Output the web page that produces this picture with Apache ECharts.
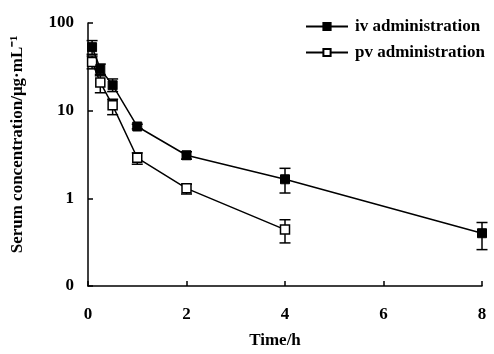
<!DOCTYPE html>
<html><head><meta charset="utf-8">
<script src="https://cdn.jsdelivr.net/npm/echarts@6/dist/echarts.min.js"></script>
<style>html,body{margin:0;padding:0;background:#fff}#c{width:494px;height:354px}</style>
</head><body><div id="c"></div>
<script>
var timesIv = [0.083, 0.25, 0.5, 1, 2, 4, 8];
var ivMean = [53, 30, 19.5, 6.6, 3.1, 1.65, 0.40];
var ivHigh = [63, 34, 23, 7.0, 3.4, 2.2, 0.53];
var ivLow = [44, 26, 16.5, 6.2, 2.8, 1.15, 0.26];
var timesPv = [0.083, 0.25, 0.5, 1, 2, 4];
var pvMean = [36, 21, 11.5, 2.9, 1.3, 0.44];
var pvHigh = [42, 25, 13.5, 3.3, 1.45, 0.57];
var pvLow = [30, 16, 9, 2.45, 1.12, 0.31];
var xTicks = [0, 2, 4, 6, 8];
var yTicks = [0.1, 1, 10, 100];
var yTickLabels = ['0', '1', '10', '100'];

var font = 'Liberation Serif';
function pairs(t, v) { return t.map(function (x, i) { return [x, v[i]]; }); }
function errData(t, lo, hi) { return t.map(function (x, i) { return [x, lo[i], hi[i]]; }); }
function errRender(params, api) {
  var x = api.value(0), lo = api.value(1), hi = api.value(2);
  var pl = api.coord([x, lo]), ph = api.coord([x, hi]);
  var w = 5.5;
  var st = { stroke: '#000', lineWidth: 1.5 };
  return { type: 'group', children: [
    { type: 'line', shape: { x1: pl[0], y1: pl[1], x2: ph[0], y2: ph[1] }, style: st },
    { type: 'line', shape: { x1: pl[0] - w, y1: pl[1], x2: pl[0] + w, y2: pl[1] }, style: st },
    { type: 'line', shape: { x1: ph[0] - w, y1: ph[1], x2: ph[0] + w, y2: ph[1] }, style: st }
  ]};
}
var chart = echarts.init(document.getElementById('c'));
chart.setOption({
  animation: false,
  backgroundColor: '#fff',
  grid: { left: 88, right: 12, top: 23, bottom: 60 },
  legend: {
    left: 300, top: 13, orient: 'vertical', itemGap: 9, itemWidth: 42, itemHeight: 9,
    textStyle: { fontFamily: font, fontWeight: 'bold', fontSize: 17, color: '#000', padding: [0, 0, 0, 2] },
    data: ['iv administration', 'pv administration']
  },
  xAxis: {
    type: 'value', min: 0, max: 8, interval: 2,
    name: 'Time/h', nameLocation: 'middle', nameGap: 46,
    nameTextStyle: { fontFamily: font, fontWeight: 'bold', fontSize: 17, color: '#000', padding: [0, 20, 0, 0] },
    axisLine: { lineStyle: { color: '#000', width: 1.5 } },
    axisTick: { inside: true, length: 5, lineStyle: { color: '#000', width: 1.5 } },
    axisLabel: { margin: 20, fontFamily: font, fontWeight: 'bold', fontSize: 17, color: '#000',
      formatter: function (v) { return xTicks.indexOf(v) >= 0 ? String(v) : ''; } },
    splitLine: { show: false }
  },
  yAxis: {
    type: 'log', logBase: 10, min: 0.1, max: 100,
    name: 'Serum concentration/μg·mL⁻¹', nameLocation: 'middle', nameGap: 62, nameRotate: 90,
    nameTextStyle: { fontFamily: font, fontWeight: 'bold', fontSize: 17, color: '#000', padding: [0, 0, 0, 20] },
    axisLine: { lineStyle: { color: '#000', width: 1.5 } },
    axisTick: { inside: true, length: 5, lineStyle: { color: '#000', width: 1.5 } },
    axisLabel: { margin: 14, fontFamily: font, fontWeight: 'bold', fontSize: 17, color: '#000',
      formatter: function (v) {
        for (var i = 0; i < yTicks.length; i++) if (Math.abs(v - yTicks[i]) < 1e-9 * yTicks[i]) return yTickLabels[i];
        return '';
      } },
    splitLine: { show: false }
  },
  series: [
    { type: 'custom', name: 'ivErr', renderItem: errRender, data: errData(timesIv, ivLow, ivHigh), z: 2, silent: true },
    { type: 'custom', name: 'pvErr', renderItem: errRender, data: errData(timesPv, pvLow, pvHigh), z: 2, silent: true },
    { type: 'line', name: 'iv administration', data: pairs(timesIv, ivMean), symbol: 'rect', symbolSize: 9,
      showAllSymbol: true, lineStyle: { color: '#000', width: 1.5 },
      itemStyle: { color: '#000', borderColor: '#000', borderWidth: 1 }, z: 4 },
    { type: 'line', name: 'pv administration', data: pairs(timesPv, pvMean), symbol: 'rect', symbolSize: 9,
      showAllSymbol: true, lineStyle: { color: '#000', width: 1.5 },
      itemStyle: { color: '#fff', borderColor: '#000', borderWidth: 1.5 }, z: 3 }
  ]
});
</script></body></html>
